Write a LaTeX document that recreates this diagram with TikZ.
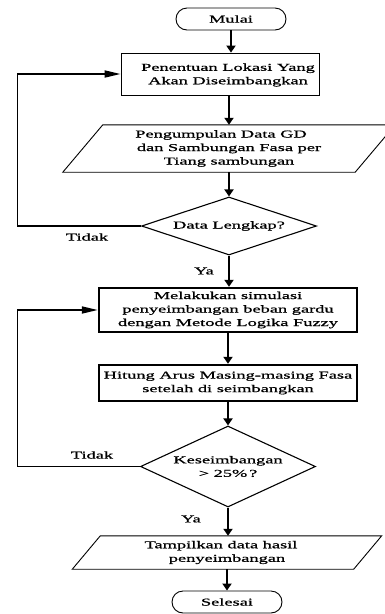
\documentclass[tikz,border=0pt]{standalone}
\usepackage{fontspec}
\setmainfont{Liberation Serif}[FakeStretch=1.75,FakeBold=0.8]
\usetikzlibrary{shapes.geometric,arrows.meta}
\begin{document}
\begin{tikzpicture}[x=1pt,y=-1pt,
  txt/.style={font=\fontsize{10.5}{13.5}\selectfont, align=center, inner sep=0pt},
  term/.style={txt, draw, line width=0.9pt, rounded corners=11pt, minimum width=110pt, minimum height=22pt},
  thinbox/.style={draw, line width=0.8pt, minimum width=198pt, minimum height=42pt, inner sep=0pt},
  thickbox/.style={txt, draw, line width=2.4pt, minimum width=258pt},
  dec/.style={txt, diamond, draw, line width=1.1pt, aspect=3, minimum width=175pt},
  io/.style={txt},
  ioline/.style={line width=0.9pt, line join=miter},
  flow/.style={line width=2pt, -{Triangle[length=7pt,width=9pt]}},
  back/.style={line width=1.7pt, -{Triangle[length=16pt,width=7pt]}},
  lbl/.style={font=\fontsize{10.5}{13.5}\selectfont, inner sep=0pt}
]
\useasboundingbox (0,0) rectangle (385,614);
\coordinate (lx) at (17.5,0);

\node[term] (mulai) at (231,19) {Mulai};
\node[thinbox] (b1) at (220,74) {};
\node[txt] (b1t) at (228,75) {Penentuan Lokasi Yang\\Akan Diseimbangkan};
\node[io, minimum width=292pt, minimum height=47pt] (p1) at (229,148.5)
  {Pengumpulan Data GD\hspace*{16pt}\\dan Sambungan Fasa per\\Tiang sambungan};
\node[dec, minimum height=58pt] (d1) at (229,226) {Data Lengkap?};
\node[thickbox, minimum height=44pt] (b2) at (228,310)
  {Melakukan simulasi\\penyeimbangan beban gardu\\dengan Metode Logika Fuzzy};
\node[thickbox, minimum height=36pt] (b3) at (228,383)
  {Hitung Arus Masing-masing Fasa\\setelah di seimbangkan};
\node[dec, minimum height=81pt] (d2) at (228,466.5) {Keseimbangan\\> 25\%\,?};
\node[io, minimum width=281pt, minimum height=33pt] (p2) at (227,552.5)
  {Tampilkan data hasil\hspace*{12pt}\\penyeimbangan};
\node[term] (selesai) at (227,602) {Selesai};

\draw[ioline] ([xshift=-20pt]p1.south west) -- ([xshift=20pt]p1.north west)
  -- ([xshift=20pt]p1.north east) -- ([xshift=-20pt]p1.south east) -- cycle;
\draw[ioline] ([xshift=-14pt]p2.south west) -- ([xshift=14pt]p2.north west)
  -- ([xshift=14pt]p2.north east) -- ([xshift=-14pt]p2.south east) -- cycle;

\draw[flow] (mulai.south) -- (mulai.south |- b1.north);
\draw[flow] (p1.north |- b1.south) -- (p1.north);
\draw[flow] (p1.south) -- (d1.north);
\draw[flow] (d1.south) -- (d1.south |- b2.north);
\draw[flow] (b2.south) -- (b3.north);
\draw[flow] (b3.south) -- (d2.north);
\draw[flow] (d2.south) -- (d2.south |- p2.north);
\draw[flow] (p2.south) -- (selesai.north);

\draw[back] (d1.west) -- (d1.west -| lx) |- (b1.west);
\draw[back] (d2.west) -- (d2.west -| lx) |- (b2.west);

\node[lbl] (t1) at (87,237) {Tidak};
\node[lbl] (y1) at (204,271) {Ya};
\node[lbl] (t2) at (92,455) {Tidak};
\node[lbl] (y2) at (191,519) {Ya};
\end{tikzpicture}
\end{document}
